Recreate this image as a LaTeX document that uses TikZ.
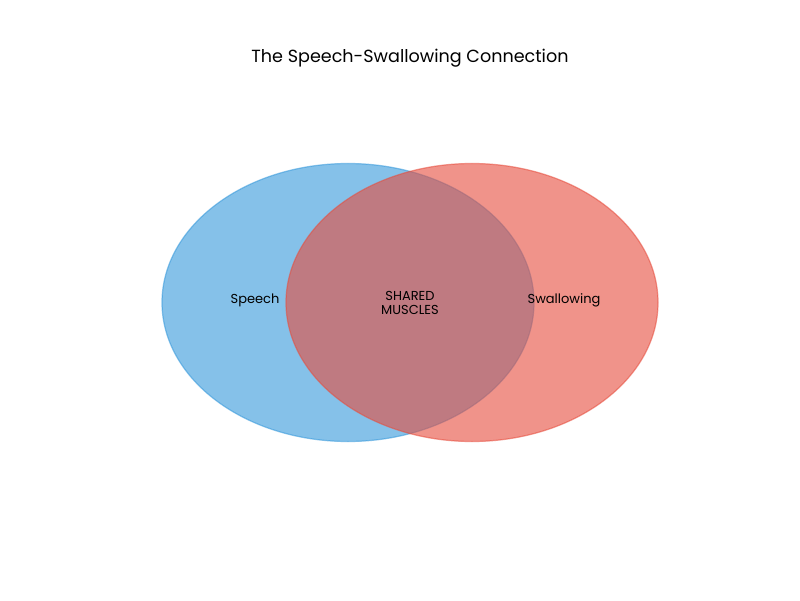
\documentclass[tikz,border=0pt]{standalone}
\usepackage{fontspec}
\setmainfont{Poppins}
\usetikzlibrary{shapes}

\definecolor{speechBlue}{HTML}{3498DB}
\definecolor{swallowRed}{HTML}{E74C3C}

\begin{document}
\begin{tikzpicture}[scale = 1]
	\tikzstyle{SetStyle}=[shape = ellipse, minimum width = 3.72cm, minimum height = 2.78cm, inner sep = 0pt, line width = 0.35pt, fill opacity = 0.6, draw opacity = 0.55]
	\tikzstyle{LabelStyle}=[inner sep = 0pt, align = center, font = \fontsize{3.7}{4.2}\selectfont]
	\tikzstyle{TitleStyle}=[inner sep = 0pt, font = \fontsize{5.0}{6}\selectfont]
	\useasboundingbox[fill = white] (0,0) rectangle (8,6);
	\node[TitleStyle] (title) at (4.10, 5.42) {The Speech-Swallowing Connection};
	\node[SetStyle, fill = speechBlue, draw = speechBlue] (speech) at (3.48, 2.975) {};
	\node[SetStyle, fill = swallowRed, draw = swallowRed] (swallow) at (4.72, 2.975) {};
	\node[LabelStyle] (speechLabel) at (2.55, 3.00) {Speech};
	\node[LabelStyle] (swallowLabel) at (5.64, 3.00) {Swallowing};
	\node[LabelStyle] (shared) at (4.10, 2.97) {SHARED\\MUSCLES};
\end{tikzpicture}
\end{document}
